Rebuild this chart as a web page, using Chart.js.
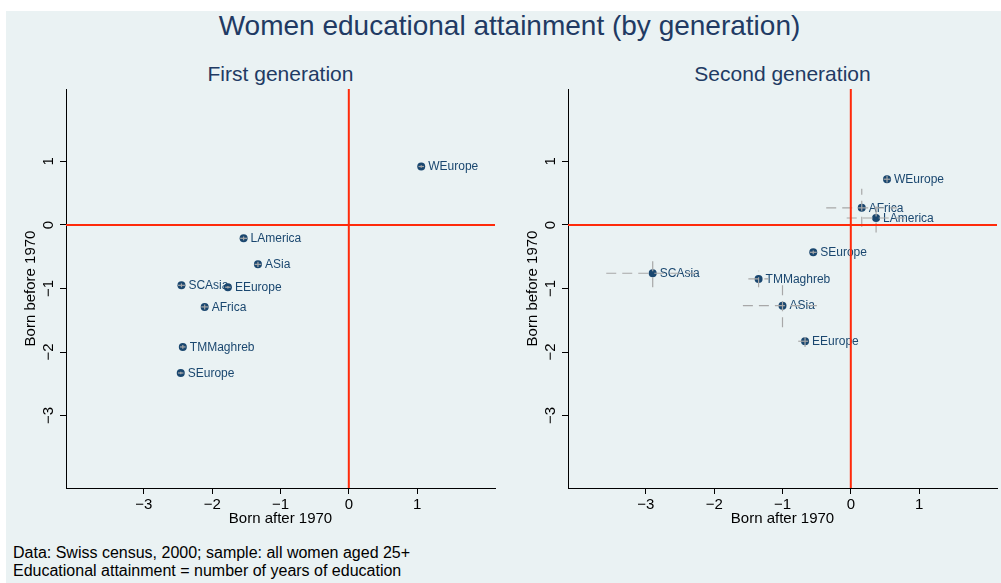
<!DOCTYPE html>
<html>
<head>
<meta charset="utf-8">
<script src="https://cdn.jsdelivr.net/npm/chart.js@4.4.1/dist/chart.umd.min.js"></script>
<style>
  body { margin: 0; background: #fff; font-family: "Liberation Sans", Arial, Helvetica, sans-serif; }
  #page { position: relative; width: 1001px; height: 583px; overflow: hidden; }
  #bg { position: absolute; left: 6px; top: 11px; width: 995px; height: 572px; background: #eaf2f3; }
  .txt { position: absolute; white-space: nowrap; }
  #title { left: 509.5px; top: 12.3px; transform: translateX(-50%); font-size: 28px; line-height: 28px; color: #213a63; }
  .sub { top: 63.2px; transform: translateX(-50%); font-size: 21px; line-height: 21px; color: #213a63; }
  #note { left: 13px; top: 543.5px; font-size: 16px; line-height: 18px; color: #000; }
  .box { position: absolute; top: 55px; height: 485px; }
</style>
</head>
<body>
<div id="page">
  <div id="bg"></div>
  <div id="title" class="txt">Women educational attainment (by generation)</div>
  <div class="txt sub" style="left:280.5px">First generation</div>
  <div class="txt sub" style="left:782.5px">Second generation</div>
  <div class="box" style="left:0;width:500px"><canvas id="gen1"></canvas></div>
  <div class="box" style="left:502px;width:499px"><canvas id="gen2"></canvas></div>
  <div id="note" class="txt">Data: Swiss census, 2000; sample: all women aged 25+<br>Educational attainment = number of years of education</div>
</div>
<script>
// first generation
const regions1 = ['WEurope', 'LAmerica', 'ASia', 'SCAsia', 'EEurope', 'AFrica', 'TMMaghreb', 'SEurope'];
const after1 = [1.06, -1.54, -1.33, -2.45, -1.77, -2.11, -2.43, -2.46];
const before1 = [0.92, -0.21, -0.62, -0.95, -0.98, -1.29, -1.92, -2.33];
const errAfter1 = [0.04, 0.05, 0.05, 0.05, 0.04, 0.05, 0.04, 0.04];
const errBefore1 = [0.02, 0.03, 0.04, 0.03, 0.02, 0.04, 0.03, 0.02];

// second generation
const regions2 = ['WEurope', 'AFrica', 'LAmerica', 'SEurope', 'SCAsia', 'TMMaghreb', 'ASia', 'EEurope'];
const after2 = [0.53, 0.16, 0.37, -0.55, -2.90, -1.35, -1.00, -0.67];
const before2 = [0.72, 0.27, 0.11, -0.43, -0.76, -0.85, -1.27, -1.83];
const errAfter2 = [0.05, 0.52, 0.43, 0.05, 0.68, 0.15, 0.58, 0.10];
const errBefore2 = [0.05, 0.30, 0.23, 0.03, 0.22, 0.13, 0.34, 0.09];

const tickValues = [-3, -2, -1, 0, 1];
const axisMin = -4.14, axisMax = 2.14;

const FONT = '"Liberation Sans", Arial, Helvetica, sans-serif';
const NAVY = '#1a476f';
const minus = v => (v < 0 ? '\u2212' + Math.abs(v) : String(v));

function makeChart(id, names, xs, ys, ex, ey, padRight) {
    const ctx = document.getElementById(id).getContext('2d');
    return new Chart(ctx, {
        type: 'scatter',
        data: {
            datasets: [{
                data: xs.map((x, i) => ({ x: x, y: ys[i] })),
                backgroundColor: NAVY,
                borderColor: NAVY,
                borderWidth: 0,
                pointRadius: 4,
                pointHoverRadius: 4,
            }],
        },
        options: {
            responsive: true,
            maintainAspectRatio: false,
            animation: false,
            layout: { padding: { top: 34, right: padRight, left: 0, bottom: 0 } },
            plugins: { legend: { display: false }, tooltip: { enabled: false } },
            scales: {
                x: {
                    type: 'linear',
                    min: axisMin, max: axisMax,
                    afterBuildTicks: s => { s.ticks = tickValues.map(v => ({ value: v })); },
                    afterFit: s => { s.height = 52; },
                    ticks: { color: '#000', font: { family: FONT, size: 15 }, padding: 2, callback: minus, maxRotation: 0 },
                    grid: { drawOnChartArea: false, drawTicks: true, tickLength: 6, tickColor: '#000' },
                    border: { color: '#000', width: 1 },
                    title: { display: true, text: 'Born after 1970', color: '#000', font: { family: FONT, size: 15 }, padding: { top: 0, bottom: 12.5 } },
                },
                y: {
                    type: 'linear',
                    min: axisMin, max: axisMax,
                    afterBuildTicks: s => { s.ticks = tickValues.map(v => ({ value: v })); },
                    afterFit: s => { s.width = 66; },
                    ticks: { display: false },
                    grid: { color: '#eaf2f3', lineWidth: 1, drawTicks: true, tickLength: 6, tickColor: '#000' },
                    border: { color: '#000', width: 1 },
                    title: { display: true, text: 'Born before 1970', color: '#000', font: { family: FONT, size: 15 }, padding: { top: 22, bottom: 0 } },
                },
            },
        },
        plugins: [{
            id: 'marks',
            afterDatasetsDraw(chart) {
                const c = chart.ctx, xs_ = chart.scales.x, ys_ = chart.scales.y, a = chart.chartArea;
                // marker labels
                c.save();
                c.font = '12px ' + FONT;
                c.fillStyle = NAVY;
                c.textBaseline = 'middle';
                c.textAlign = 'left';
                names.forEach((n, i) => {
                    c.fillText(n, xs_.getPixelForValue(xs[i]) + 7, ys_.getPixelForValue(ys[i]) + 0.5);
                });
                // error bars
                c.strokeStyle = '#a8a8a8';
                c.lineWidth = 1.2;
                c.setLineDash([10, 6]);
                names.forEach((n, i) => {
                    const px = xs_.getPixelForValue(xs[i]), py = ys_.getPixelForValue(ys[i]);
                    c.beginPath();
                    c.moveTo(xs_.getPixelForValue(xs[i] - ex[i]), py);
                    c.lineTo(xs_.getPixelForValue(xs[i] + ex[i]), py);
                    c.stroke();
                    c.beginPath();
                    c.moveTo(px, ys_.getPixelForValue(ys[i] - ey[i]));
                    c.lineTo(px, ys_.getPixelForValue(ys[i] + ey[i]));
                    c.stroke();
                });
                c.setLineDash([]);
                // reference lines at zero
                c.strokeStyle = '#ff2a0a';
                c.lineWidth = 2;
                const x0 = xs_.getPixelForValue(0), y0 = ys_.getPixelForValue(0);
                c.beginPath();
                c.moveTo(x0, a.top); c.lineTo(x0, a.bottom);
                c.moveTo(a.left, y0); c.lineTo(a.right, y0);
                c.stroke();
                c.restore();
            },
            afterDraw(chart) {
                // rotated y tick labels
                const c = chart.ctx, ys_ = chart.scales.y;
                c.save();
                c.font = '15px ' + FONT;
                c.fillStyle = '#000';
                c.textAlign = 'center';
                c.textBaseline = 'alphabetic';
                tickValues.forEach(v => {
                    c.save();
                    c.translate(53, ys_.getPixelForValue(v));
                    c.rotate(-Math.PI / 2);
                    c.fillText(minus(v), 0, 0);
                    c.restore();
                });
                c.restore();
            },
        }],
    });
}

makeChart('gen1', regions1, after1, before1, errAfter1, errBefore1, 5);
makeChart('gen2', regions2, after2, before2, errAfter2, errBefore2, 4);
</script>
</body>
</html>
